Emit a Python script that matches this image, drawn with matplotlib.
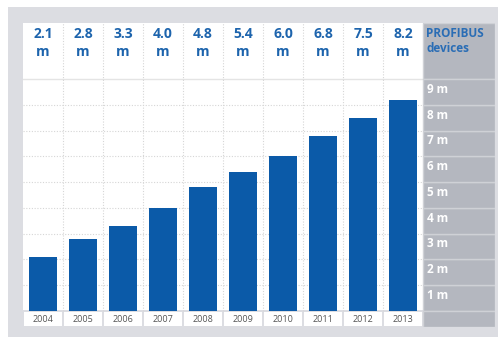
import matplotlib
matplotlib.use("Agg")
import matplotlib.pyplot as plt
from matplotlib.patches import Rectangle

years = ["2004", "2005", "2006", "2007", "2008", "2009", "2010", "2011", "2012", "2013"]
values = [2.1, 2.8, 3.3, 4.0, 4.8, 5.4, 6.0, 6.8, 7.5, 8.2]
axis_labels = ["1 m", "2 m", "3 m", "4 m", "5 m", "6 m", "7 m", "8 m", "9 m"]
header_title = "PROFIBUS\ndevices"

BAR = "#0b5aa8"
HEAD = "#1d64ad"
OUTER = "#dcdde2"
SIDE = "#b4b7bf"
SIDE_LINE = "#cfd1d6"
GRID = "#d6d6d6"

plt.rcParams['font.family'] = ['Open Sans', 'DejaVu Sans']

W, H = 498, 337
fig = plt.figure(figsize=(W / 100, H / 100), dpi=100)
fig.patch.set_facecolor("white")

bg = fig.add_axes([8 / W, 0, 1 - 8 / W, 1 - 7 / H], zorder=-1)
bg.set_facecolor(OUTER)
bg.set_xticks([])
bg.set_yticks([])
for s in bg.spines.values():
    s.set_visible(False)

ncol = len(years)
unit_px = 25.78
top_y = 9 + 56 / unit_px
bot_y = -16 / unit_px
right_x = ncol + 72 / 40

ax = fig.add_axes([23 / W, 1 - 327 / H, (495 - 23) / W, (327 - 23) / H], zorder=1)
ax.set_xlim(0, right_x)
ax.set_ylim(bot_y, top_y)
ax.set_facecolor(OUTER)
for s in ax.spines.values():
    s.set_visible(False)
ax.set_xticks([])
ax.set_yticks([])

# white main panel
ax.add_patch(Rectangle((0, 0.03), ncol, top_y - 0.03, facecolor="white", edgecolor="none", zorder=0))
# year cells
for i, y in enumerate(years):
    ax.add_patch(Rectangle((i + 0.02, bot_y + 0.02), 0.96, -bot_y - 0.07,
                           facecolor="white", edgecolor="none", zorder=0))
    ax.text(i + 0.5, bot_y / 2 - 0.01, y, ha="center", va="center", fontsize=6.5, color="#555555")

# grid
for k in range(1, 9):
    ax.plot([0, ncol], [k, k], color=GRID, lw=0.8, ls=(0, (1, 1.5)), zorder=1)
ax.plot([0, ncol], [9, 9], color="#e4e4e4", lw=1.0, zorder=1)
for i in range(1, ncol):
    ax.plot([i, i], [0, top_y], color=GRID, lw=0.8, ls=(0, (1, 1.5)), zorder=1)

# bars
xs = [i + 0.5 for i in range(ncol)]
ax.bar(xs, values, width=0.7, color=BAR, zorder=3)

# header values
for x, v in zip(xs, values):
    ax.text(x, 10.76, f"{v:.1f}", ha="center", va="center", fontsize=10, fontweight="bold", color=HEAD)
    ax.text(x, 10.06, "m", ha="center", va="center", fontsize=10, fontweight="bold", color=HEAD)

# right column
ax.add_patch(Rectangle((ncol, 9), right_x - ncol, top_y - 9, facecolor=SIDE, edgecolor=SIDE_LINE, lw=1, zorder=2))
for k in range(1, 10):
    ax.add_patch(Rectangle((ncol, k - 1), right_x - ncol, 1, facecolor=SIDE, edgecolor=SIDE_LINE, lw=1, zorder=2))
    ax.text(ncol + 0.1, k - 0.4, axis_labels[k - 1], ha="left", va="center", fontsize=8.5,
            fontweight="bold", color="white", zorder=4)
ax.add_patch(Rectangle((ncol, bot_y), right_x - ncol, -bot_y, facecolor=SIDE, edgecolor=SIDE_LINE, lw=1, zorder=2))
ax.text(ncol + 0.08, 11.02, header_title, ha="left", va="top", fontsize=8.5, fontweight="bold",
        color="#2a6db5", linespacing=1.2, zorder=4)

fig.savefig("out.png", dpi=100, facecolor=fig.get_facecolor())
